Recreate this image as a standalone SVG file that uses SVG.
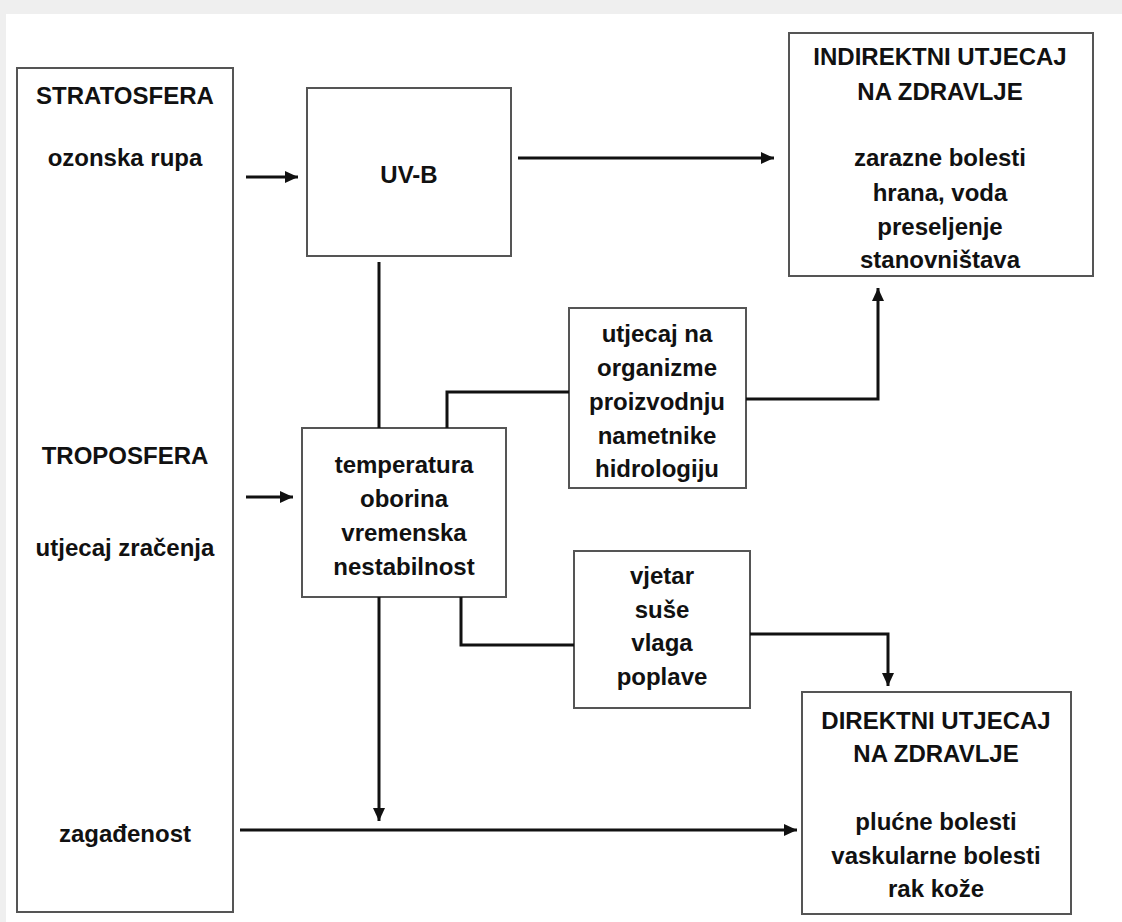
<svg xmlns="http://www.w3.org/2000/svg" width="1122" height="922" viewBox="0 0 1122 922">
  <style>
    .box { fill: #ffffff; stroke: #555555; stroke-width: 2; }
    .t { font-family: "Liberation Sans", Arial, sans-serif; font-size: 24px; font-weight: bold; fill: #111111; text-anchor: middle; }
    .c { fill: none; stroke: #111111; stroke-width: 3; }
    .ca { fill: none; stroke: #111111; stroke-width: 3; marker-end: url(#ah); }
  </style>
  <defs>
    <marker id="ah" markerUnits="userSpaceOnUse" markerWidth="16" markerHeight="16" viewBox="0 0 16 16" refX="15" refY="8" orient="auto">
      <path d="M2,2 L15,8 L2,14 Z" fill="#111111"/>
    </marker>
  </defs>

  <rect x="0" y="0" width="1122" height="922" fill="#efefef"/>
  <rect x="6" y="14" width="1116" height="908" fill="#ffffff"/>

  <g id="atmosfera">
    <rect class="box" x="17" y="68" width="216" height="844"/>
    <text class="t" x="125" y="104">STRATOSFERA</text>
    <text class="t" x="125" y="166">ozonska rupa</text>
    <text class="t" x="125" y="464">TROPOSFERA</text>
    <text class="t" x="125" y="556">utjecaj zračenja</text>
    <text class="t" x="125" y="842">zagađenost</text>
  </g>

  <g id="uvb">
    <rect class="box" x="307" y="88" width="204" height="168"/>
    <text class="t" x="409" y="183">UV-B</text>
  </g>

  <g id="indirektni">
    <rect class="box" x="789" y="33" width="304" height="243"/>
    <text class="t" x="940" y="65">INDIREKTNI UTJECAJ</text>
    <text class="t" x="940" y="100">NA ZDRAVLJE</text>
    <text class="t" x="940" y="166">zarazne bolesti</text>
    <text class="t" x="940" y="201">hrana, voda</text>
    <text class="t" x="940" y="235">preseljenje</text>
    <text class="t" x="940" y="268">stanovništava</text>
  </g>

  <g id="utjecaj">
    <rect class="box" x="569" y="308" width="177" height="180"/>
    <text class="t" x="657" y="342">utjecaj na</text>
    <text class="t" x="657" y="376">organizme</text>
    <text class="t" x="657" y="410">proizvodnju</text>
    <text class="t" x="657" y="444">nametnike</text>
    <text class="t" x="657" y="477">hidrologiju</text>
  </g>

  <g id="temperatura">
    <rect class="box" x="302" y="428" width="204" height="169"/>
    <text class="t" x="404" y="473">temperatura</text>
    <text class="t" x="404" y="507">oborina</text>
    <text class="t" x="404" y="541">vremenska</text>
    <text class="t" x="404" y="575">nestabilnost</text>
  </g>

  <g id="vjetar">
    <rect class="box" x="574" y="551" width="176" height="157"/>
    <text class="t" x="662" y="584">vjetar</text>
    <text class="t" x="662" y="618">suše</text>
    <text class="t" x="662" y="651">vlaga</text>
    <text class="t" x="662" y="685">poplave</text>
  </g>

  <g id="direktni">
    <rect class="box" x="802" y="692" width="269" height="222"/>
    <text class="t" x="936" y="729">DIREKTNI UTJECAJ</text>
    <text class="t" x="936" y="762">NA ZDRAVLJE</text>
    <text class="t" x="936" y="830">plućne bolesti</text>
    <text class="t" x="936" y="864">vaskularne bolesti</text>
    <text class="t" x="936" y="897">rak kože</text>
  </g>

  <g id="connectors">
    <line class="ca" x1="246" y1="177" x2="298" y2="177"/>
    <line class="ca" x1="518" y1="158" x2="774" y2="158" stroke-width="4"/>
    <line class="c" x1="379" y1="262" x2="379" y2="428"/>
    <line class="ca" x1="246" y1="497" x2="293" y2="497"/>
    <polyline class="c" points="447,428 447,392 569,392"/>
    <polyline class="ca" points="746,399 878,399 878,288"/>
    <polyline class="c" points="461,597 461,645 574,645"/>
    <polyline class="ca" points="750,634 888,634 888,686"/>
    <line class="ca" x1="379" y1="597" x2="379" y2="821"/>
    <line class="ca" x1="240" y1="830" x2="797" y2="830" stroke-width="4"/>
  </g>
</svg>
